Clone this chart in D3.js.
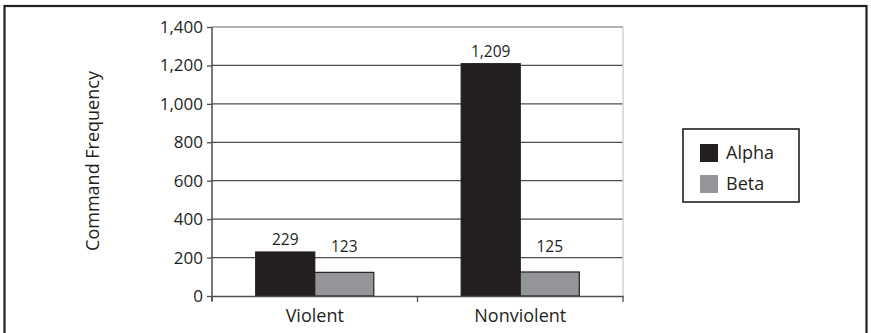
<!DOCTYPE html>
<html><head><meta charset="utf-8">
<script src="https://cdn.jsdelivr.net/npm/d3@7"></script>
<style>body{margin:0;background:#fff}svg{display:block}text{font-family:"Open Sans",sans-serif;fill:#231f20}</style>
</head><body><svg id="c" width="871" height="333"></svg>
<script>
const categories = ["Violent", "Nonviolent"];
const series = ["Alpha", "Beta"];
const alphaValues = [229, 1209];
const betaValues = [123, 125];
const yTicks = [0, 200, 400, 600, 800, 1000, 1200, 1400];
const colors = {Alpha: "#231f20", Beta: "#939598"};
const labelOffset = {Alpha: 7, Beta: 20};

const svg = d3.select("#c");
const fmt = d3.format(",");
const L = 212, R = 623, T = 27, B = 296;

// outer frame
svg.append("rect").attr("x", 4.5).attr("y", 6).attr("width", 862).attr("height", 340)
  .attr("fill", "none").attr("stroke", "#231f20").attr("stroke-width", 2.2);

const y = d3.scaleLinear().domain([0, 1400]).range([B, T]);
const x0 = d3.scaleBand().domain(categories).range([L, R]).paddingInner(0).paddingOuter(0);
const x1 = d3.scaleBand().domain(series).range([0, x0.bandwidth()]).paddingInner(0).paddingOuter(0.74);

// gridlines
svg.append("g").selectAll("line").data(yTicks.filter(d => d > 0)).join("line")
  .attr("x1", L).attr("x2", R).attr("y1", d => y(d)).attr("y2", d => y(d))
  .attr("stroke", (d) => d === 1400 ? "#9a9a9a" : "#4d4d4f").attr("stroke-width", 1.3);
// right plot edge
svg.append("line").attr("x1", R).attr("x2", R).attr("y1", T).attr("y2", B)
  .attr("stroke", "#c8c8c8").attr("stroke-width", 1.2);

// bars
const data = categories.map((c, i) => ({cat: c, vals: [{s: "Alpha", v: alphaValues[i]}, {s: "Beta", v: betaValues[i]}]}));
const g = svg.append("g").selectAll("g").data(data).join("g")
  .attr("transform", d => `translate(${x0(d.cat)},0)`);
g.selectAll("rect").data(d => d.vals).join("rect")
  .attr("x", d => x1(d.s)).attr("width", x1.bandwidth())
  .attr("y", d => y(d.v)).attr("height", d => y(0) - y(d.v))
  .attr("fill", d => colors[d.s]).attr("stroke", "#231f20").attr("stroke-width", 1.2);
g.selectAll("text").data(d => d.vals).join("text")
  .attr("x", d => x1(d.s) + x1.bandwidth() / 2)
  .attr("y", d => y(d.v) - labelOffset[d.s])
  .attr("text-anchor", "middle").attr("font-size", 15.5).text(d => fmt(d.v));

// y axis
const ya = svg.append("g").attr("transform", `translate(${L},0)`)
  .call(d3.axisLeft(y).tickValues(yTicks).tickFormat(fmt).tickSize(5).tickSizeOuter(0).tickPadding(4));
ya.select(".domain").remove();
ya.selectAll(".tick line").attr("stroke", "#4d4d4f").attr("stroke-width", 1.3);
ya.selectAll(".tick text").attr("font-size", 17).attr("font-family", "Open Sans").attr("fill", "#231f20");
svg.append("line").attr("x1", L).attr("x2", L).attr("y1", T).attr("y2", B + 5)
  .attr("stroke", "#4d4d4f").attr("stroke-width", 1.5);

// x axis
const xa = svg.append("g").attr("transform", `translate(0,${B})`)
  .call(d3.axisBottom(x0).tickSize(0).tickPadding(13));
xa.select(".domain").attr("stroke", "#4d4d4f").attr("stroke-width", 1.5);
xa.selectAll(".tick text").attr("font-size", 18).attr("font-family", "Open Sans").attr("fill", "#231f20");
const bounds = [L].concat(categories.map(c => x0(c) + x0.bandwidth()));
svg.append("g").selectAll("line").data(bounds).join("line")
  .attr("x1", d => d).attr("x2", d => d).attr("y1", B).attr("y2", B + 6)
  .attr("stroke", "#4d4d4f").attr("stroke-width", 1.3);

// y axis title
svg.append("text").attr("transform", "translate(99,161) rotate(-90)")
  .attr("text-anchor", "middle").attr("font-size", 18).text("Command Frequency");

// legend
const lg = svg.append("g").attr("transform", "translate(683,129)");
lg.append("rect").attr("width", 116).attr("height", 73).attr("fill", "#fff")
  .attr("stroke", "#231f20").attr("stroke-width", 1.6);
const li = lg.selectAll("g").data(series).join("g").attr("transform", (d, i) => `translate(17,${15 + i * 31})`);
li.append("rect").attr("width", 18).attr("height", 18).attr("fill", d => colors[d]);
li.append("text").attr("x", 26).attr("y", 15).attr("font-size", 18).text(d => d);
</script></body></html>
